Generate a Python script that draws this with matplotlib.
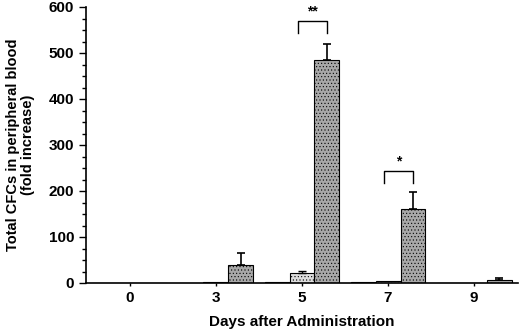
import numpy as np
import matplotlib
matplotlib.use("Agg")
import matplotlib.pyplot as plt
from matplotlib.ticker import MultipleLocator

plt.rcParams['font.family'] = ['Liberation Sans', 'DejaVu Sans']
plt.rcParams['font.weight'] = 'bold'
plt.rcParams['hatch.linewidth'] = 0.4
plt.rcParams['hatch.color'] = '#555555'

# data
days = ["0", "3", "5", "7", "9"]
group1 = [0.5, 1, 2, 3, 0.5]
group2 = [0.5, 2, 22, 5, 0.5]
group2_err = [0, 0, 4, 0, 0]
group3 = [0.5, 40, 485, 160, 7]
group3_err = [0, 26, 35, 37, 4]

x = np.arange(len(days))
w = 0.29

fig = plt.figure(figsize=(5.2, 3.32), dpi=100)
ax = fig.add_axes([86 / 520, 49 / 332, 432 / 520, 276 / 332])

ax.bar(x - w, group1, w, color='#333333', edgecolor='black', linewidth=0.8)
ax.bar(x, group2, w, color='#dcdcdc', edgecolor='black', linewidth=0.8, hatch='.....')
ax.bar(x + w, group3, w, color='#a8a8a8', edgecolor='black', linewidth=0.8, hatch='.....')

# upper error bars only
for i in range(len(days)):
    if group2_err[i] > 0:
        ax.errorbar(x[i], group2[i], yerr=[[0], [group2_err[i]]], fmt='none',
                    ecolor='black', elinewidth=1, capsize=3, capthick=1)
    if group3_err[i] > 0:
        ax.errorbar(x[i] + w, group3[i], yerr=[[0], [group3_err[i]]], fmt='none',
                    ecolor='black', elinewidth=1.2, capsize=3, capthick=1.2)

# significance brackets
def bracket(x0, x1, y_low, y_high, label):
    ax.plot([x0, x0, x1, x1], [y_low, y_high, y_high, y_low], color='black', lw=1)
    ax.text((x0 + x1) / 2, y_high + 6, label, ha='center', va='bottom',
            fontsize=10, fontweight='bold')

bracket(2 - 0.05, 2 + w, 543, 570, "**")
bracket(3 - 0.05, 3 + w, 217, 243, "*")

ax.set_xlim(-0.51, 4.51)
ax.set_ylim(0, 600)
ax.set_xticks(x)
ax.set_xticklabels(days, fontsize=11, fontweight='bold')
ax.yaxis.set_major_locator(MultipleLocator(100))
ax.yaxis.set_minor_locator(MultipleLocator(25))
ax.tick_params(axis='y', labelsize=11, width=1, length=5, direction='out')
ax.tick_params(axis='y', which='minor', width=1, length=3)
ax.tick_params(axis='x', length=2, width=1, pad=4)
for lbl in ax.get_yticklabels():
    lbl.set_fontweight('bold')

ax.spines['top'].set_visible(False)
ax.spines['right'].set_visible(False)
ax.spines['left'].set_linewidth(1.2)
ax.spines['bottom'].set_linewidth(1.2)

ax.set_xlabel("Days after Administration", fontsize=11, fontweight='bold', labelpad=7)
ax.set_ylabel("Total CFCs in peripheral blood\n(fold increase)", fontsize=10.5,
              fontweight='bold', labelpad=10, linespacing=1.1)

fig.savefig("out.png", dpi=100)
